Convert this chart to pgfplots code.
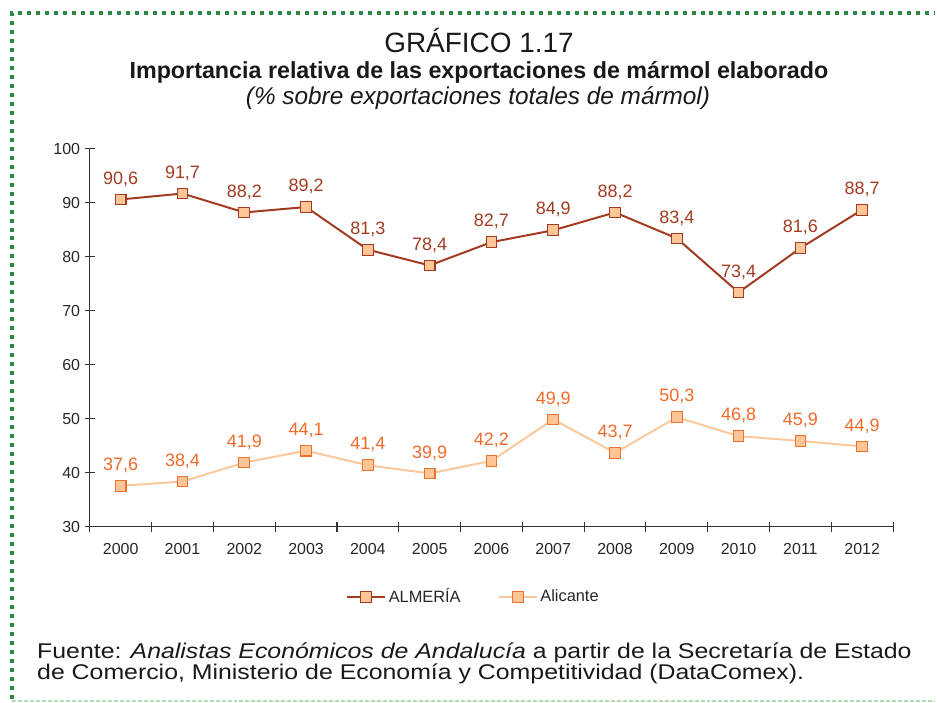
\documentclass[border=0pt]{standalone}
\usepackage{fontspec}
\setmainfont{Liberation Sans}
\newfontfamily\widefont[FakeStretch=1.168]{Liberation Sans}
\usepackage{pgfplots}
\pgfplotsset{compat=1.18}
\definecolor{almeria}{HTML}{A33B20}
\definecolor{mfill}{HTML}{FFC596}
\definecolor{alic}{HTML}{FBC89C}
\definecolor{alicedge}{HTML}{F07030}
\definecolor{alictext}{HTML}{F26A2A}
\definecolor{bordergreen}{HTML}{2A8A45}
\definecolor{axisgray}{HTML}{333333}
\begin{document}
\begin{tikzpicture}
\begin{scope}[x=0.75pt,y=-0.75pt,yshift=528pt]
\path (0,0) rectangle (937,704);
\draw[bordergreen, line width=3pt, dash pattern=on 3pt off 3.75pt] (12,700) -- (12,13) -- (937,13);
\draw[green!55!black!30, line width=1.5pt, dash pattern=on 3pt off 1.5pt] (12,702) -- (937,702);
\node[font=\fontsize{21}{25}\selectfont, text=black!90, anchor=base] at (480,53) {GRÁFICO 1.17};
\node[font=\bfseries\fontsize{17.5}{20}\selectfont, text=black!90, anchor=base] at (480,79) {Importancia relativa de las exportaciones de mármol elaborado};
\node[font=\itshape\fontsize{18.3}{21}\selectfont, text=black!90, anchor=base] at (479,105) {(\% sobre exportaciones totales de mármol)};
\node[font=\widefont\fontsize{16}{19}\selectfont, text=black!90, anchor=base west, inner sep=0pt] at (37,660) {Fuente: \textit{Analistas Económicos de Andalucía} a partir de la Secretaría de Estado};
\node[font=\widefont\fontsize{16}{19}\selectfont, text=black!90, anchor=base west, inner sep=0pt] at (37,681) {de Comercio, Ministerio de Economía y Competitividad (DataComex).};
\end{scope}
\begin{axis}[
  at={(67.5pt,132pt)}, anchor=south west, scale only axis,
  width=603.75pt, height=284.25pt,
  xmin=-0.5, xmax=12.5, ymin=30, ymax=100,
  axis lines=left, axis line style={-, draw=axisgray, line width=0.8pt},
  xtick={0,...,12},
  xticklabels={2000,2001,2002,2003,2004,2005,2006,2007,2008,2009,2010,2011,2012},
  major x tick style={draw=none},
  minor xtick={-0.5,0.5,...,12.5},
  ytick={30,40,...,100},
  tick align=center, major tick length=7.5pt, minor tick length=7.5pt,
  every tick/.style={axisgray, line width=0.8pt},
  minor tick style={axisgray, line width=0.8pt},
  ticklabel style={font=\fontsize{12}{14}\selectfont, text=black!85},
  xticklabel style={yshift=-5pt},
  /pgf/number format/assume math mode=true,
  clip=false,
  legend style={at={(0.478,-0.185)}, anchor=center, draw=none, fill=none,
    font=\fontsize{12.3}{14}\selectfont, text=black!85,
    /tikz/every even column/.append style={column sep=26pt}},
  legend columns=2,
  legend image code/.code={\draw[mark repeat=2,mark phase=2,#1] plot coordinates {(0cm,0cm) (0.5cm,0cm) (1cm,0cm)};},
]
\addplot[almeria, line width=1.5pt, mark=square*, mark size=4pt,
  mark options={fill=mfill, draw=almeria, line width=0.8pt},
  nodes near coords, point meta=explicit symbolic,
  every node near coord/.append style={anchor=base, yshift=11.5pt, text=almeria, font=\fontsize{13.5}{16}\selectfont}]
  table[meta=lab] {
x y lab
0 90.6 {90,6}
1 91.7 {91,7}
2 88.2 {88,2}
3 89.2 {89,2}
4 81.3 {81,3}
5 78.4 {78,4}
6 82.7 {82,7}
7 84.9 {84,9}
8 88.2 {88,2}
9 83.4 {83,4}
10 73.4 {73,4}
11 81.6 {81,6}
12 88.7 {88,7}
};
\addlegendentry{ALMERÍA}
\addplot[alic, line width=1.5pt, mark=square*, mark size=4pt,
  mark options={fill=mfill, draw=alicedge, line width=0.8pt},
  nodes near coords, point meta=explicit symbolic,
  every node near coord/.append style={anchor=base, yshift=11.5pt, text=alictext, font=\fontsize{13.5}{16}\selectfont}]
  table[meta=lab] {
x y lab
0 37.6 {37,6}
1 38.4 {38,4}
2 41.9 {41,9}
3 44.1 {44,1}
4 41.4 {41,4}
5 39.9 {39,9}
6 42.2 {42,2}
7 49.9 {49,9}
8 43.7 {43,7}
9 50.3 {50,3}
10 46.8 {46,8}
11 45.9 {45,9}
12 44.9 {44,9}
};
\addlegendentry{Alicante}
\end{axis}
\end{tikzpicture}
\end{document}
